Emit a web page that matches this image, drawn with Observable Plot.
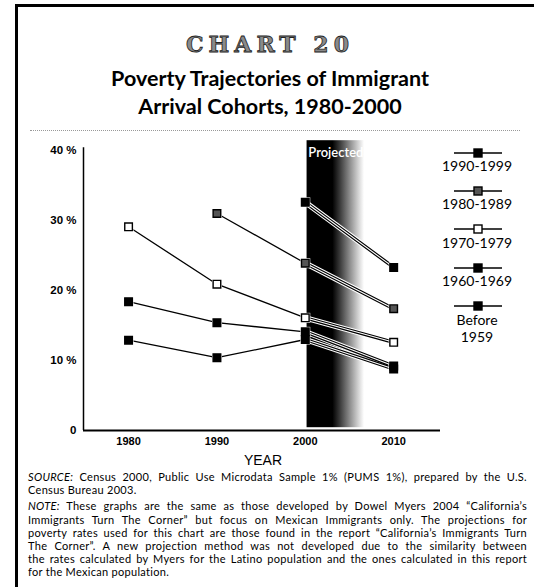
<!DOCTYPE html>
<html><head><meta charset="utf-8">
<script src="https://cdn.jsdelivr.net/npm/d3@7"></script>
<script src="https://cdn.jsdelivr.net/npm/@observablehq/plot@0.6"></script>
<style>
body{margin:0;background:#fff;}
#wrap{position:relative;width:534px;height:587px;overflow:hidden;background:#fff;font-family:Lato,sans-serif;color:#000;}
#frame{position:absolute;left:15px;top:4px;width:530px;height:581px;border-left:3px solid #000;border-top:3px solid #000;}
#kicker{position:absolute;left:0;width:540px;top:31px;text-align:center;font-family:"DejaVu Serif",serif;font-weight:bold;font-size:22px;letter-spacing:5px;color:#8a8a8a;-webkit-text-stroke:0.8px #222;}
#title{position:absolute;left:0;width:540px;top:64px;text-align:center;font-family:Lato,sans-serif;font-weight:bold;font-size:21.5px;line-height:28px;}
#dots{position:absolute;left:30px;width:490px;top:130px;border-top:1px dotted #999;}
#chart{position:absolute;left:0;top:135px;}
#legend{position:absolute;left:0;top:0;width:534px;height:587px;pointer-events:none;}
.lg{position:absolute;width:100px;text-align:center;font-family:Lato,sans-serif;font-size:14px;line-height:16.8px;}
#xlabel{position:absolute;left:0;width:526px;top:452px;text-align:center;font-family:"Liberation Sans",Arial,sans-serif;font-size:14px;}
#notes{position:absolute;left:28px;width:499px;top:470px;font-family:Lato,sans-serif;font-size:11px;line-height:13.2px;letter-spacing:0.3px;}
#notes .l{text-align:justify;text-align-last:justify;white-space:nowrap;}
#notes .e{text-align:left;}
#notes .gap{height:3px;}
</style></head><body>
<div id="wrap">
 <div id="frame"></div>
 <div id="kicker">CHART 20</div>
 <div id="title">Poverty Trajectories of Immigrant<br>Arrival Cohorts, 1980-2000</div>
 <div id="dots"></div>
 <div id="chart"></div>
 <div id="legend"></div>
 <div id="xlabel">YEAR</div>
 <div id="notes">
  <div class="l"><i>SOURCE:</i> Census 2000, Public Use Microdata Sample 1% (PUMS 1%), prepared by the U.S.</div>
  <div class="e">Census Bureau 2003.</div>
  <div class="gap"></div>
  <div class="l"><i>NOTE:</i> These graphs are the same as those developed by Dowel Myers 2004 “California’s</div>
  <div class="l">Immigrants Turn The Corner” but focus on Mexican Immigrants only. The projections for</div>
  <div class="l">poverty rates used for this chart are those found in the report “California’s Immigrants Turn</div>
  <div class="l">The Corner”. A new projection method was not developed due to the similarity between</div>
  <div class="l">the rates calculated by Myers for the Latino population and the ones calculated in this report</div>
  <div class="e">for the Mexican population.</div>
 </div>
</div>
<script>
const years = [1980, 1990, 2000, 2010];
const cohorts = ["1990-1999", "1980-1989", "1970-1979", "1960-1969", "Before 1959"];
const legendLines = [["1990-1999"], ["1980-1989"], ["1970-1979"], ["1960-1969"], ["Before", "1959"]];
const v1990s = [null, null, 32.6, 23.3];
const v1980s = [null, 31.0, 23.9, 17.4];
const v1970s = [29.1, 20.9, 16.1, 12.6];
const v1960s = [18.4, 15.4, 14.1, 9.2];
const vBefore = [12.9, 10.4, 13.0, 8.8];
const cohortFills = ["#000", "#555", "#fff", "#000", "#000"];
const yTicks = [0, 10, 20, 30, 40];
const yTickLabels = ["0", "10 %", "20 %", "30 %", "40 %"];
const projectionStart = 2000;
const projectionLabel = "Projected";

const series = [v1990s, v1980s, v1970s, v1960s, vBefore];
const rows = [];
cohorts.forEach((c, ci) => years.forEach((yr, yi) => {
  const v = series[ci][yi];
  if (v != null) rows.push({cohort: c, year: yr, value: v, fill: cohortFills[ci]});
}));
const hist = rows.filter(d => d.year <= projectionStart);
const proj = rows.filter(d => d.year >= projectionStart);

const xDomain = [1974.9, 2015.3];
const chart = Plot.plot({
  width: 534, height: 320,
  marginLeft: 83, marginRight: 94, marginTop: 15, marginBottom: 25,
  x: {domain: xDomain, axis: null},
  y: {domain: [0, 40], axis: null},
  color: {type: "identity"},
  style: {background: "transparent", overflow: "visible"},
  marks: [
    Plot.rect([projectionStart], {x1: d => d + 0.2, x2: d => d + 6.7, y1: 0.4, y2: 41.4, fill: "url(#projGrad)"}),
    Plot.text([projectionStart], {x: d => d, y: 39.6, text: () => projectionLabel, textAnchor: "start", dx: 3, fill: "white", fontSize: 13, fontWeight: 600, fontFamily: "Lato, sans-serif"}),
    Plot.ruleX([xDomain[0]], {y1: 0, y2: 40.4, strokeWidth: 1.5}),
    Plot.ruleY([0], {x1: xDomain[0], x2: xDomain[1], strokeWidth: 2}),
    Plot.axisY(yTicks, {label: null, tickSize: 0, tickPadding: 7, tickFormat: d => yTickLabels[yTicks.indexOf(d)], fontWeight: "bold", fontSize: 11.5, fontFamily: "Liberation Sans, Arial, sans-serif"}),
    Plot.axisX(years, {label: null, tickSize: 0, tickPadding: 7, tickFormat: d => String(d), fontWeight: "bold", fontSize: 11, fontFamily: "Liberation Sans, Arial, sans-serif"}),
    Plot.line(hist, {x: "year", y: "value", z: "cohort", stroke: "black", strokeWidth: 1.3}),
    Plot.line(proj, {x: "year", y: "value", z: "cohort", stroke: "white", strokeWidth: 5.5}),
    Plot.line(proj, {x: "year", y: "value", z: "cohort", stroke: "black", strokeWidth: 3.4}),
    Plot.line(proj, {x: "year", y: "value", z: "cohort", stroke: "white", strokeWidth: 1.1}),
    Plot.dot(rows, {x: "year", y: "value", symbol: "square", r: 5.6, fill: "white"}),
    Plot.dot(rows, {x: "year", y: "value", symbol: "square", r: 4.3, fill: "fill", stroke: "black", strokeWidth: 1.4})
  ]
});
d3.select(chart).insert("defs", ":first-child").html(
  `<linearGradient id="projGrad" x1="0" x2="1" y1="0" y2="0">
     <stop offset="0" stop-color="#000"/>
     <stop offset="0.45" stop-color="#000"/>
     <stop offset="0.58" stop-color="#3a3a3a"/>
     <stop offset="0.75" stop-color="#8c8c8c"/>
     <stop offset="0.92" stop-color="#dcdcdc"/>
     <stop offset="1" stop-color="#fff"/>
   </linearGradient>`);
document.getElementById("chart").appendChild(chart);

// legend
const lg = d3.select("#legend");
const lsvg = lg.append("svg").attr("width", 534).attr("height", 587).style("position", "absolute").style("left", 0).style("top", 0);
const markerY = [153, 191, 229, 268, 306];
const labelTop = [158, 196, 235, 273, 312];
cohorts.forEach((c, i) => {
  lsvg.append("line").attr("x1", 454).attr("x2", 502).attr("y1", markerY[i]).attr("y2", markerY[i]).attr("stroke", "#000").attr("stroke-width", 1.3);
  lsvg.append("rect").attr("x", 474).attr("y", markerY[i] - 4).attr("width", 8).attr("height", 8)
    .attr("fill", cohortFills[i]).attr("stroke", "#000").attr("stroke-width", 1.4);
  lg.append("div").attr("class", "lg").style("left", "427px").style("top", labelTop[i] + "px")
    .html(legendLines[i].join("<br>"));
});
</script>
</body></html>
